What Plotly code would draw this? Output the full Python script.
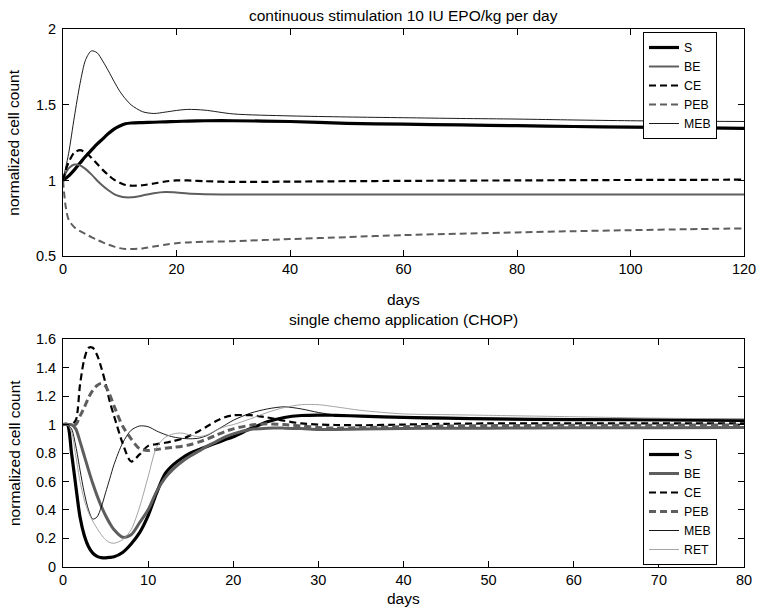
import plotly.graph_objects as go

# ---------------- data ----------------
top_days = [0, 0.5, 1, 2, 3, 4, 5, 6, 7, 8, 9, 10, 11, 12, 14, 16, 18, 20, 22, 25,
            30, 40, 50, 60, 70, 80, 90, 100, 110, 120]
top_S = [1.0, 1.015, 1.03, 1.07, 1.115, 1.16, 1.2, 1.24, 1.275, 1.31, 1.34, 1.36, 1.375, 1.38,
         1.383, 1.385, 1.388, 1.39, 1.393, 1.395, 1.395, 1.39, 1.378, 1.372, 1.367, 1.362,
         1.357, 1.353, 1.349, 1.345]
top_BE = [1.0, 1.05, 1.08, 1.105, 1.1, 1.075, 1.04, 1.0, 0.965, 0.935, 0.91, 0.895, 0.888,
          0.888, 0.9, 0.915, 0.923, 0.92, 0.913, 0.909, 0.907, 0.907, 0.907, 0.907, 0.907,
          0.907, 0.907, 0.907, 0.907, 0.907]
top_CE = [1.0, 1.07, 1.12, 1.185, 1.2, 1.185, 1.15, 1.11, 1.07, 1.035, 1.005, 0.985, 0.97,
          0.965, 0.968, 0.98, 0.993, 1.0, 1.0, 0.995, 0.99, 0.992, 0.995, 0.997, 0.999, 1.0,
          1.002, 1.003, 1.004, 1.005]
top_PEB = [1.0, 0.82, 0.74, 0.69, 0.665, 0.645, 0.625, 0.607, 0.59, 0.575, 0.562, 0.552,
           0.547, 0.546, 0.55, 0.563, 0.575, 0.585, 0.59, 0.594, 0.598, 0.612, 0.625, 0.638,
           0.648, 0.656, 0.664, 0.671, 0.677, 0.683]
top_MEB = [1.0, 1.09, 1.18, 1.42, 1.64, 1.8, 1.857, 1.845, 1.79, 1.725, 1.655, 1.59, 1.54,
           1.5, 1.455, 1.443, 1.452, 1.463, 1.47, 1.465, 1.44, 1.427, 1.42, 1.415, 1.41,
           1.406, 1.4, 1.395, 1.392, 1.39]

bot_days = [0, 0.5, 1, 1.5, 2, 2.5, 3, 3.5, 4, 4.5, 5, 5.5, 6, 7, 8, 9, 10, 11, 12, 13, 14,
            15, 16, 17, 18, 19, 20, 22, 24, 26, 28, 30, 32, 35, 40, 45, 50, 60, 70, 80]
bot_S = [1.0, 1.0, 0.8, 0.57, 0.35, 0.22, 0.14, 0.095, 0.073, 0.064, 0.062, 0.065, 0.07,
         0.1, 0.16, 0.24, 0.36, 0.52, 0.655, 0.72, 0.765, 0.8, 0.825, 0.848, 0.87, 0.893,
         0.915, 0.97, 1.02, 1.05, 1.064, 1.067, 1.065, 1.06, 1.05, 1.045, 1.04, 1.035,
         1.033, 1.03]
bot_BE = [1.0, 1.0, 1.0, 0.97, 0.88, 0.78, 0.68, 0.585, 0.5, 0.425, 0.36, 0.305, 0.26,
          0.207, 0.225, 0.31, 0.4, 0.53, 0.625, 0.69, 0.74, 0.78, 0.815, 0.85, 0.88, 0.912,
          0.935, 0.965, 0.975, 0.975, 0.972, 0.966, 0.965, 0.968, 0.973, 0.975, 0.975,
          0.977, 0.978, 0.98]
bot_CE = [1.0, 1.0, 1.0, 1.03, 1.28, 1.46, 1.54, 1.54, 1.49, 1.4, 1.29, 1.16, 1.06, 0.87,
          0.74, 0.79, 0.85, 0.862, 0.872, 0.885, 0.9, 0.925, 0.955, 0.99, 1.025, 1.052,
          1.065, 1.066, 1.05, 1.027, 1.008, 1.0, 0.997, 0.995, 1.0, 1.005, 1.008, 1.008,
          1.008, 1.008]
bot_PEB = [1.0, 1.0, 1.0, 1.0, 1.06, 1.12, 1.19, 1.24, 1.275, 1.29, 1.27, 1.21, 1.13,
           0.99, 0.9, 0.83, 0.818, 0.825, 0.833, 0.84, 0.848, 0.86, 0.878, 0.9, 0.925,
           0.95, 0.97, 0.995, 1.005, 1.0, 0.99, 0.98, 0.975, 0.978, 0.985, 0.99, 0.993,
           0.995, 0.996, 0.997]
bot_MEB = [1.0, 1.0, 0.97, 0.85, 0.68, 0.52, 0.4, 0.335, 0.35, 0.42, 0.52, 0.62, 0.72,
           0.87, 0.96, 0.99, 0.985, 0.955, 0.93, 0.912, 0.903, 0.9, 0.905, 0.925, 0.96,
           0.995, 1.03, 1.08, 1.11, 1.125, 1.11, 1.085, 1.068, 1.06, 1.055, 1.05, 1.045,
           1.04, 1.035, 1.03]
bot_RET = [1.0, 1.0, 0.95, 0.78, 0.6, 0.47, 0.38, 0.32, 0.27, 0.225, 0.19, 0.17, 0.165,
           0.19, 0.26, 0.42, 0.633, 0.84, 0.91, 0.935, 0.94, 0.925, 0.915, 0.93, 0.96,
           0.985, 1.0, 1.04, 1.085, 1.12, 1.14, 1.14, 1.125, 1.1, 1.075, 1.07, 1.065,
           1.055, 1.045, 1.04]

top_names = ["S", "BE", "CE", "PEB", "MEB"]
bot_names = ["S", "BE", "CE", "PEB", "MEB", "RET"]

top_xticks = [0, 20, 40, 60, 80, 100, 120]
top_yticks = [0.5, 1, 1.5, 2]
top_yticklabels = ["0.5", "1", "1.5", "2"]
bot_xticks = [0, 10, 20, 30, 40, 50, 60, 70, 80]
bot_yticks = [0, 0.2, 0.4, 0.6, 0.8, 1.0, 1.2, 1.4, 1.6]
bot_yticklabels = ["0", "0.2", "0.4", "0.6", "0.8", "1", "1.2", "1.4", "1.6"]

title_top = "continuous stimulation 10 IU EPO/kg per day"
title_bot = "single chemo application (CHOP)"
xlabel = "days"
ylabel = "normalized cell count"

# ---------------- styles ----------------
GRAY = "#5e5e5e"
LIGHT = "#9a9a9a"
DASH = "7px,4px"
top_styles = {
    "S": dict(color="black", width=3.2),
    "BE": dict(color=GRAY, width=2),
    "CE": dict(color="black", width=2.2, dash=DASH),
    "PEB": dict(color=GRAY, width=2, dash=DASH),
    "MEB": dict(color="black", width=0.9),
}
bot_styles = {
    "S": dict(color="black", width=3.2),
    "BE": dict(color=GRAY, width=3),
    "CE": dict(color="black", width=2.2, dash=DASH),
    "PEB": dict(color=GRAY, width=3, dash=DASH),
    "MEB": dict(color="black", width=0.9),
    "RET": dict(color=LIGHT, width=0.9),
}

FONT = "Liberation Sans, Arial, Helvetica, sans-serif"
W, H = 760, 610

fig = go.Figure()
top_series = [top_S, top_BE, top_CE, top_PEB, top_MEB]
for name, ys in zip(top_names, top_series):
    fig.add_trace(go.Scatter(x=top_days, y=ys, name=name, mode="lines",
                             line=dict(shape="spline", smoothing=0.8, **top_styles[name]),
                             xaxis="x", yaxis="y", legend="legend"))
bot_series = [bot_S, bot_BE, bot_CE, bot_PEB, bot_MEB, bot_RET]
for name, ys in zip(bot_names, bot_series):
    fig.add_trace(go.Scatter(x=bot_days, y=ys, name=name, mode="lines",
                             line=dict(shape="spline", smoothing=0.8, **bot_styles[name]),
                             xaxis="x2", yaxis="y2", legend="legend2"))

px_l, px_r = 63, 744
top_t, top_b = 29.3, 256
bot_t, bot_b = 339.3, 566.7

def fx(px):
    return px / W

def fy(py):
    return 1 - py / H

axis_common = dict(showgrid=False, zeroline=False, showline=True, linecolor="black",
                   linewidth=1, mirror="ticks", ticks="inside", ticklen=6,
                   tickcolor="black", tickwidth=1, automargin=False,
                   tickfont=dict(family=FONT, size=14.5, color="black"))

legend_common = dict(xanchor="left", yanchor="top", bgcolor="white", bordercolor="black",
                     borderwidth=1, font=dict(family=FONT, size=12.3, color="black"),
                     tracegroupgap=0, itemwidth=30, entrywidth=50,
                     entrywidthmode="pixels")

fig.update_layout(
    width=W, height=H,
    margin=dict(l=0, r=0, t=0, b=0, pad=0, autoexpand=False),
    paper_bgcolor="white", plot_bgcolor="white",
    font=dict(family=FONT, color="black"),
    xaxis=dict(domain=[fx(px_l), fx(px_r)], range=[0, 120], anchor="y",
               tickvals=top_xticks, **axis_common),
    yaxis=dict(domain=[fy(top_b), fy(top_t)], range=[0.5, 2], anchor="x",
               tickvals=top_yticks, ticktext=top_yticklabels, ticklabelstandoff=3,
               **axis_common),
    xaxis2=dict(domain=[fx(px_l), fx(px_r)], range=[0, 80], anchor="y2",
                tickvals=bot_xticks, **axis_common),
    yaxis2=dict(domain=[fy(bot_b), fy(bot_t)], range=[0, 1.6], anchor="x2",
                tickvals=bot_yticks, ticktext=bot_yticklabels, ticklabelstandoff=3,
                **axis_common),
    legend=dict(x=fx(643), y=fy(32), **legend_common),
    legend2=dict(x=fx(643), y=fy(439), **legend_common),
    showlegend=True,
)

ann_font = dict(family=FONT, size=15.5, color="black")
cx = fx((px_l + px_r) / 2)
annotations = [
    dict(text=title_top, x=cx, y=fy(15), xref="paper", yref="paper",
         xanchor="center", yanchor="middle", showarrow=False, font=ann_font),
    dict(text=xlabel, x=cx, y=fy(299), xref="paper", yref="paper",
         xanchor="center", yanchor="middle", showarrow=False, font=ann_font),
    dict(text=title_bot, x=cx, y=fy(319), xref="paper", yref="paper",
         xanchor="center", yanchor="middle", showarrow=False, font=ann_font),
    dict(text=xlabel, x=cx, y=fy(598), xref="paper", yref="paper",
         xanchor="center", yanchor="middle", showarrow=False, font=ann_font),
    dict(text=ylabel, x=fx(14), y=fy((top_t + top_b) / 2), xref="paper", yref="paper",
         xanchor="center", yanchor="middle", textangle=-90, showarrow=False, font=ann_font),
    dict(text=ylabel, x=fx(14), y=fy((bot_t + bot_b) / 2), xref="paper", yref="paper",
         xanchor="center", yanchor="middle", textangle=-90, showarrow=False, font=ann_font),
]
fig.update_layout(annotations=annotations)

fig.write_html("out.html", config={"displayModeBar": False},
               post_script="document.body.style.margin='0';document.body.style.padding='0';")
